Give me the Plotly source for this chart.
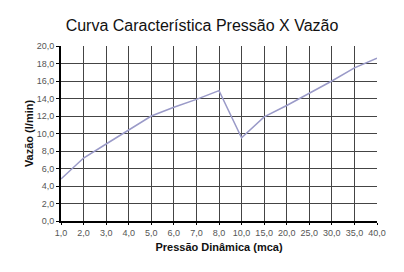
import plotly.graph_objects as go

pressao = ["1,0", "2,0", "3,0", "4,0", "5,0", "6,0", "7,0", "8,0",
           "10,0", "15,0", "20,0", "25,0", "30,0", "35,0", "40,0"]
vazao = [4.8, 7.2, 8.8, 10.4, 12.0, 13.0, 13.9, 14.9,
         9.5, 11.9, 13.2, 14.6, 16.0, 17.5, 18.6]

fig = go.Figure()
fig.add_trace(go.Scatter(
    x=pressao, y=vazao, mode="lines",
    line=dict(color="#9a9ac8", width=1.5),
    showlegend=False, hoverinfo="skip"))

fig.update_layout(
    width=404, height=272,
    margin=dict(l=61, r=27, t=46, b=51),
    paper_bgcolor="white", plot_bgcolor="white",
    separators=",.",
    font=dict(family="Liberation Sans, Arial, sans-serif", color="#000"),
    title=dict(text="Curva Característica Pressão X Vazão",
               x=0.5, xanchor="center", y=0.905, yanchor="middle",
               font=dict(size=16, color="#111")),
)
fig.update_xaxes(
    type="category", range=[0, 14],
    showgrid=True, gridcolor="#444", gridwidth=1,
    showline=True, linecolor="#000", linewidth=2,
    ticks="outside", ticklen=2, tickcolor="#000", tickwidth=1,
    tickfont=dict(size=9, color="#555"),
    title=dict(text="<b>Pressão Dinâmica (mca)</b>", font=dict(size=11, color="#111"),
               standoff=7),
    mirror=False, zeroline=False,
)
fig.update_yaxes(
    range=[0, 20], dtick=2, tickformat=".1f",
    showgrid=True, gridcolor="#444", gridwidth=1,
    showline=True, linecolor="#000", linewidth=2,
    ticks="outside", ticklen=3, tickcolor="#000", tickwidth=1,
    tickfont=dict(size=9, color="#555"),
    title=dict(text="<b>Vazão (l/min)</b>", font=dict(size=11, color="#111"),
               standoff=1),
    zeroline=False,
)
fig.write_html("out.html")
